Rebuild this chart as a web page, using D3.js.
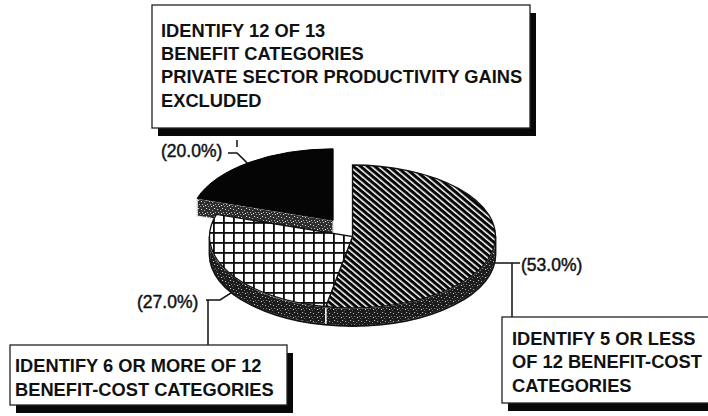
<!DOCTYPE html>
<html>
<head>
<meta charset="utf-8">
<script src="https://cdn.jsdelivr.net/npm/d3@7"></script>
<style>
  html, body { margin: 0; padding: 0; background: #fff; }
  svg { display: block; }
  text { font-family: "Liberation Sans", Arial, Helvetica, sans-serif; fill: #111; }
</style>
</head>
<body>
<script>
// Share of agencies by number of benefit/cost categories identified
const values = [53, 27, 20];
const pctLabels = ["(53.0%)", "(27.0%)", "(20.0%)"];
const categoryLines = [
  ["IDENTIFY 5 OR LESS", "OF 12 BENEFIT-COST", "CATEGORIES"],
  ["IDENTIFY 6 OR MORE OF 12", "BENEFIT-COST CATEGORIES"],
  ["IDENTIFY 12 OF 13", "BENEFIT CATEGORIES", "PRIVATE SECTOR PRODUCTIVITY GAINS", "EXCLUDED"]
];

const W = 708, H = 416;
const svg = d3.select("body").append("svg").attr("width", W).attr("height", H);
const defs = svg.append("defs");

// ---- fill patterns ----
const stripes = defs.append("pattern").attr("id", "stripes")
  .attr("patternUnits", "userSpaceOnUse").attr("width", 4.6).attr("height", 10)
  .attr("patternTransform", "rotate(-50)");
stripes.append("rect").attr("width", 4.6).attr("height", 10).attr("fill", "#050505");
stripes.append("rect").attr("x", 0).attr("width", 1.5).attr("height", 10).attr("fill", "#fff");

const grid = defs.append("pattern").attr("id", "grid")
  .attr("patternUnits", "userSpaceOnUse").attr("width", 10).attr("height", 10)
  .attr("x", 3).attr("y", 2);
grid.append("rect").attr("width", 10).attr("height", 10).attr("fill", "#fff");
grid.append("rect").attr("width", 1.8).attr("height", 10).attr("fill", "#0a0a0a");
grid.append("rect").attr("width", 10).attr("height", 1.8).attr("fill", "#0a0a0a");

function speckle(id, base, dots) {
  const p = defs.append("pattern").attr("id", id)
    .attr("patternUnits", "userSpaceOnUse").attr("width", 8).attr("height", 8);
  p.append("rect").attr("width", 8).attr("height", 8).attr("fill", base);
  dots.forEach(([x, y, c]) => p.append("rect").attr("x", x).attr("y", y)
    .attr("width", 1.1).attr("height", 1).attr("fill", c));
}
speckle("wall", "#1c1c1c", [[1,1,"#aaa"],[4,2,"#777"],[6,0,"#bbb"],[2,4,"#888"],[5,5,"#ccc"],[0,6,"#666"],[7,4,"#777"]]);
speckle("wallLight", "#2c2c2c", [[1,1,"#ccc"],[4,2,"#aaa"],[6,0,"#ddd"],[2,4,"#bbb"],[5,5,"#eee"],[0,6,"#999"],[3,6,"#ccc"],[7,4,"#aaa"]]);

// ---- pie geometry (angles clockwise from 12 o'clock) ----
const cx = 352.5, cy = 236.5, rx = 143, ry = 71.5, depth = 18;
const explodeX = 33, explodeY = 20;
const fills = ["url(#stripes)", "url(#grid)", "#050505"];
const exploded = [false, false, true];

const arcs = d3.pie().sort(null).value(d => d)(values);

function pt(a, o, dz = 0) {
  return [o[0] + rx * Math.sin(a), o[1] - ry * Math.cos(a) + dz];
}
function topPath(a0, a1, o) {
  const p0 = pt(a0, o), p1 = pt(a1, o);
  const large = (a1 - a0) > Math.PI ? 1 : 0;
  return `M${o[0]},${o[1]}L${p0}A${rx},${ry} 0 ${large} 1 ${p1}Z`;
}
function wallPath(a0, a1, o) {
  const s = Math.max(a0, Math.PI / 2), e = Math.min(a1, 3 * Math.PI / 2);
  if (e <= s) return null;
  const p0 = pt(s, o), p1 = pt(e, o), q1 = pt(e, o, depth), q0 = pt(s, o, depth);
  return `M${p0}A${rx},${ry} 0 0 1 ${p1}L${q1}A${rx},${ry} 0 0 0 ${q0}Z`;
}
function cutPath(a, o) {
  const p = pt(a, o);
  return `M${o[0]},${o[1]}L${p}L${p[0]},${p[1] + depth}L${o[0]},${o[1] + depth}Z`;
}

const origin = arcs.map((d, i) => {
  if (!exploded[i]) return [cx, cy];
  const m = (d.startAngle + d.endAngle) / 2;
  return [cx + explodeX * Math.sin(m), cy - explodeY * Math.cos(m)];
});

const pie = svg.append("g");

// exploded slice sits behind the rest, draw it first
arcs.forEach((d, i) => {
  if (!exploded[i]) return;
  const o = origin[i];
  pie.append("path").attr("d", cutPath(d.startAngle, o))
    .attr("fill", "url(#wallLight)").attr("stroke", "#e8e8e8").attr("stroke-width", 1.4);
  pie.append("path").attr("d", topPath(d.startAngle, d.endAngle, o))
    .attr("fill", fills[i]).attr("stroke", "#000").attr("stroke-width", 1);
});

// body of the pie: front walls then top faces
arcs.forEach((d, i) => {
  if (exploded[i]) return;
  const w = wallPath(d.startAngle, d.endAngle, origin[i]);
  if (w) pie.append("path").attr("d", w)
    .attr("fill", "url(#wall)").attr("stroke", "#f0f0f0").attr("stroke-width", 1.4);
});
// dark outline round the bottom rim
{
  const o = [cx, cy];
  const a = pt(Math.PI / 2, o, depth), b = pt(3 * Math.PI / 2, o, depth);
  pie.append("path").attr("d", `M${pt(Math.PI / 2, o)}L${a}A${rx},${ry} 0 0 1 ${b}L${pt(3 * Math.PI / 2, o)}`)
    .attr("fill", "none").attr("stroke", "#111").attr("stroke-width", 1.8);
}
arcs.forEach((d, i) => {
  if (exploded[i]) return;
  pie.append("path").attr("d", topPath(d.startAngle, d.endAngle, origin[i]))
    .attr("fill", fills[i]).attr("stroke", "#111").attr("stroke-width", 1.3);
});

// ---- leader lines and percentage labels ----
const lead = svg.append("g").attr("fill", "none").attr("stroke", "#111").attr("stroke-width", 1.5);
const pctText = (x, y, s) => svg.append("text").attr("x", x).attr("y", y)
  .attr("font-size", 17.5).attr("stroke", "#111").attr("stroke-width", 0.45).text(s);

// 53%: from the right rim
{
  const p = pt(Math.PI / 2 + 0.12, origin[0], depth);
  lead.append("path").attr("d", `M${p[0]},${p[1]}H520M512,${p[1]}V317`);
  pctText(521, 271, pctLabels[0]);
}
// 27%: from the lower-left rim
{
  const p = pt(4.15, origin[1], depth);
  lead.append("path").attr("d", `M${p[0]},${p[1]}L220,300H206M208,300V345`);
  pctText(137, 308, pctLabels[1]);
}
// 20%: from the top edge of the lifted slice
{
  const p = pt(5.64, origin[2], 0);
  lead.append("path").attr("d", `M${p[0]},${p[1]}L237,153H228M237,140V147`);
  pctText(161, 157, pctLabels[2]);
}

// ---- category callout boxes with drop shadows ----
const boxes = [
  { x: 502, y: 317, w: 230, h: 86, tx: 512, ty: 345, dy: 23.3 },
  { x: 10, y: 345, w: 277, h: 60, tx: 15, ty: 372, dy: 23.5 },
  { x: 152, y: 5, w: 378, h: 123, tx: 161, ty: 36.7, dy: 23.3 }
];
boxes.forEach((b, i) => {
  const g = svg.append("g");
  g.append("rect").attr("x", b.x + 6).attr("y", b.y + 8).attr("width", b.w).attr("height", b.h).attr("fill", "#080808");
  g.append("rect").attr("x", b.x).attr("y", b.y).attr("width", b.w).attr("height", b.h)
    .attr("fill", "#fff").attr("stroke", "#222").attr("stroke-width", 1.3);
  categoryLines[i].forEach((line, k) => {
    g.append("text").attr("x", b.tx).attr("y", b.ty + k * b.dy)
      .attr("font-size", 18.3).attr("font-weight", "bold").text(line);
  });
});
</script>
</body>
</html>
